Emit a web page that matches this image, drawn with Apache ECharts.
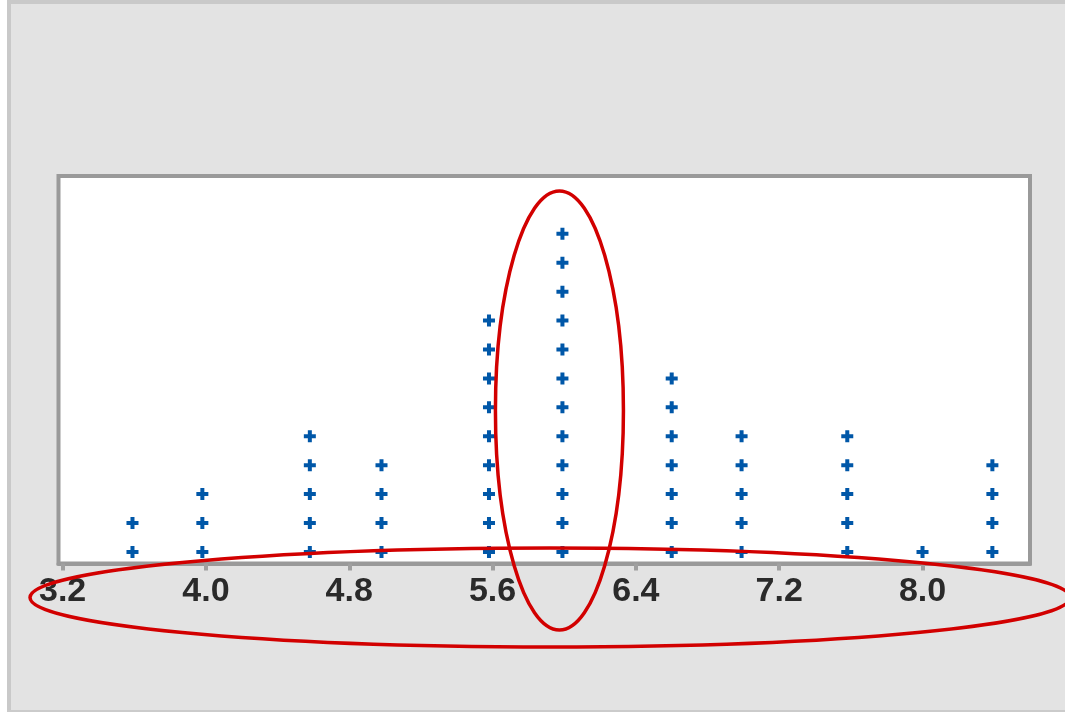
<!DOCTYPE html>
<html>
<head>
<meta charset="utf-8">
<style>
  html, body { margin: 0; padding: 0; background: #ffffff; }
  #chart { width: 1065px; height: 712px; }
</style>
<script src="https://cdn.jsdelivr.net/npm/echarts@6.0.0/dist/echarts.min.js"></script>
</head>
<body>
<div id="chart"></div>
<script>
// Dot plot: each column is a value, each cross one observation stacked upward.
const dotValues = [3.59, 3.98, 4.58, 4.98, 5.58, 5.99, 6.60, 6.99, 7.58, 8.00, 8.39];
const dotCounts = [2, 3, 5, 4, 9, 12, 7, 5, 5, 1, 4];
const tickValues = [3.2, 4.0, 4.8, 5.6, 6.4, 7.2, 8.0];
const tickLabels = ['3.2', '4.0', '4.8', '5.6', '6.4', '7.2', '8.0'];
// Column circled by the vertical annotation ellipse
const highlightValue = 5.99;

const points = [];
dotValues.forEach(function (v, i) {
  for (let k = 1; k <= dotCounts[i]; k++) points.push([v, k]);
});

const chart = echarts.init(document.getElementById('chart'), null, { renderer: 'canvas' });

const option = {
  backgroundColor: '#e3e3e3',
  animation: false,
  grid: {
    left: 58.5, top: 176, right: 35, bottom: 148.5,
    show: true,
    backgroundColor: '#ffffff',
    borderColor: '#9a9a9a',
    borderWidth: 4
  },
  xAxis: {
    type: 'value',
    min: 3.177,
    max: 8.6,
    axisLine: { show: true, onZero: false, lineStyle: { color: '#9a9a9a', width: 4 } },
    axisTick: { show: true, customValues: tickValues, length: 7, lineStyle: { color: '#a0a0a0', width: 4 } },
    axisLabel: {
      customValues: tickValues,
      formatter: function (v) {
        const i = tickValues.findIndex(function (t) { return Math.abs(t - v) < 1e-6; });
        return i >= 0 ? tickLabels[i] : '';
      },
      margin: 28,
      verticalAlign: 'middle',
      fontFamily: 'Liberation Sans',
      fontSize: 34,
      fontWeight: 'bold',
      color: '#2a2a2a'
    },
    splitLine: { show: false }
  },
  yAxis: {
    type: 'value',
    min: 0.6,
    max: 14,
    show: false
  },
  series: [{
    type: 'scatter',
    data: points,
    symbol: 'path://M4,0H8V4H12V8H8V12H4V8H0V4H4Z',
    symbolSize: 12,
    itemStyle: { color: '#0057a8', opacity: 1 },
    z: 3
  }]
};
chart.setOption(option);

// Window frame strips and red hand-drawn annotation ellipses
const hx = chart.convertToPixel({ xAxisIndex: 0 }, highlightValue);
chart.setOption({
  graphic: [
    { type: 'rect', shape: { x: 0, y: 0, width: 7, height: 712 }, style: { fill: '#ffffff' }, silent: true },
    { type: 'rect', shape: { x: 7, y: 0, width: 4, height: 712 }, style: { fill: '#c9c9c9' }, silent: true },
    { type: 'rect', shape: { x: 7, y: 0, width: 1058, height: 4 }, style: { fill: '#c9c9c9' }, silent: true },
    { type: 'rect', shape: { x: 7, y: 710, width: 1058, height: 2 }, style: { fill: '#cbcbcb' }, silent: true },
    {
      type: 'ellipse', z: 100, silent: true,
      shape: { cx: hx - 3, cy: 410.5, rx: 64, ry: 219.5 },
      style: { fill: null, stroke: '#d20000', lineWidth: 3.5 }
    },
    {
      type: 'ellipse', z: 100, silent: true,
      shape: { cx: 550, cy: 597.5, rx: 520, ry: 49.5 },
      style: { fill: null, stroke: '#d20000', lineWidth: 3.5 }
    }
  ]
});
</script>
</body>
</html>
